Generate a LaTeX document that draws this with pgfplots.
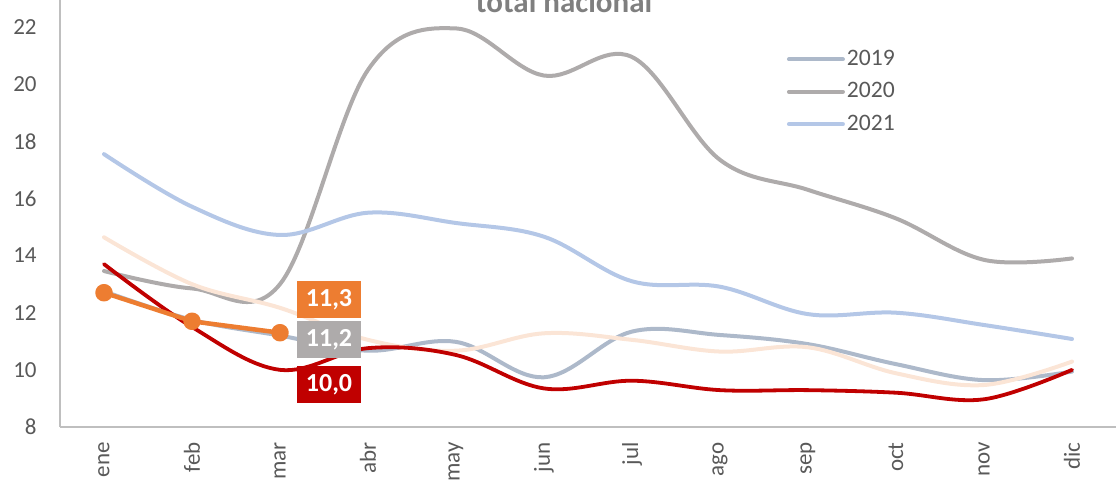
\documentclass[border=0pt]{standalone}
\usepackage{fontspec}
\setmainfont{Carlito}
\usepackage{pgfplots}
\pgfplotsset{compat=1.18}
\definecolor{c2019}{HTML}{ADB9CA}
\definecolor{c2020}{HTML}{AEABAB}
\definecolor{c2021}{HTML}{B4C7E7}
\definecolor{cpeach}{HTML}{FBE5D6}
\definecolor{cred}{HTML}{C00000}
\definecolor{corange}{HTML}{ED7D31}
\definecolor{txt}{HTML}{595959}
\definecolor{axl}{HTML}{BFBFBF}
\definecolor{ttl}{HTML}{7F7F7F}
\begin{document}
\begin{tikzpicture}
\begin{axis}[
  width=528pt, height=213.5pt, scale only axis,
  xmin=-0.5, xmax=11.5, ymin=8, ymax=22.945,
  axis lines*=left,
  axis line style={axl, line width=1pt, -},
  xtick={0,...,11},
  xticklabels={ene,feb,mar,abr,may,jun,jul,ago,sep,oct,nov,dic},
  ytick={8,10,...,22},
  major tick length=0pt,
  tick style={draw=none},
  /pgf/number format/assume math mode=true,
  ticklabel style={font=\fontsize{11.5}{13}\selectfont, text=txt, inner sep=0pt},
  xticklabel style={rotate=90, anchor=east},
  xticklabel shift=7.5pt,
  yticklabel shift=11.5pt,
  clip=false,
  legend cell align=left,
  legend image code/.code={\draw[#1, line width=2pt, line cap=round] (0pt,0pt) -- (27pt,0pt);},
  legend style={draw=none, fill=none, at={(0.688,0.89)}, anchor=north west,
    inner sep=0pt, row sep=4.2pt,
    nodes={inner sep=1pt, text height=8pt, text depth=2pt, text=txt, font=\fontsize{11.8}{13}\selectfont}},
  every axis plot/.append style={smooth, tension=0.6, line cap=round, line join=round},
]
\addplot[c2019, line width=2pt] coordinates {(0,12.75) (1,11.75) (2,11.2) (3,10.67) (4,10.98) (5,9.74) (6,11.34) (7,11.22) (8,10.9) (9,10.2) (10,9.64) (11,9.94)};
\addlegendentry{2019}
\addplot[c2020, line width=2pt] coordinates {(0,13.46) (1,12.85) (2,13.0) (3,20.5) (4,21.95) (5,20.3) (6,20.95) (7,17.35) (8,16.3) (9,15.3) (10,13.85) (11,13.9)};
\addlegendentry{2020}
\addplot[c2021, line width=2pt] coordinates {(0,17.55) (1,15.71) (2,14.72) (3,15.5) (4,15.14) (5,14.66) (6,13.1) (7,12.91) (8,11.95) (9,12.0) (10,11.57) (11,11.08)};
\addlegendentry{2021}
\addplot[cpeach, line width=2pt, forget plot] coordinates {(0,14.64) (1,13.0) (2,12.17) (3,11.05) (4,10.67) (5,11.28) (6,11.05) (7,10.64) (8,10.79) (9,9.88) (10,9.47) (11,10.29)};
\addplot[cred, line width=1.9pt, forget plot] coordinates {(0,13.7) (1,11.5) (2,10.0) (3,10.76) (4,10.52) (5,9.35) (6,9.62) (7,9.29) (8,9.29) (9,9.2) (10,8.97) (11,10.0)};
\addplot[corange, line width=2.25pt, sharp plot, mark=*, mark size=3.25pt, mark options={fill=corange, draw=corange}, forget plot] coordinates {(0,12.7) (1,11.7) (2,11.3)};
\node[fill=corange, text=white, font=\fontsize{13}{15}\selectfont\bfseries, minimum width=32pt, minimum height=18.5pt, inner sep=0pt] at (axis cs:2.557,12.46) {11,3};
\node[fill=c2020, text=white, font=\fontsize{13}{15}\selectfont\bfseries, minimum width=32pt, minimum height=18.5pt, inner sep=0pt] at (axis cs:2.557,11.06) {11,2};
\node[fill=cred, text=white, font=\fontsize{13}{15}\selectfont\bfseries, minimum width=32pt, minimum height=18.5pt, inner sep=0pt] at (axis cs:2.557,9.49) {10,0};
\node[anchor=base, text=ttl, font=\fontsize{15.5}{18}\selectfont\bfseries] at (axis cs:5.227,22.49) {total nacional};
\coordinate (sw) at (rel axis cs:0,0);
\coordinate (ne) at (rel axis cs:1,1);
\end{axis}
\pgfresetboundingbox
\path[use as bounding box] ([shift={(-30pt,-27pt)}]sw) rectangle ([shift={(0.5pt,0pt)}]ne);
\end{tikzpicture}
\end{document}
